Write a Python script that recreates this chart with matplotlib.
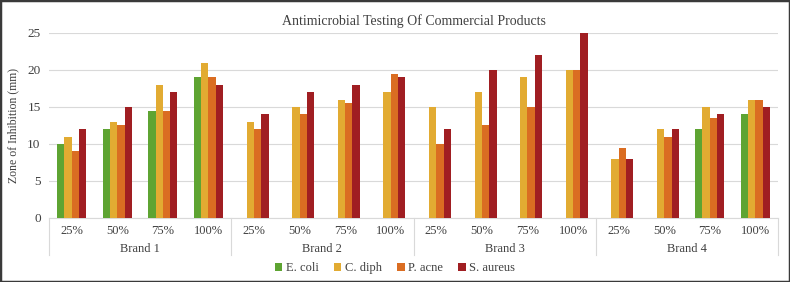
import numpy as np
import matplotlib.pyplot as plt
from matplotlib.patches import Rectangle

# ======================
# DATA
# ======================
brands = ['Brand 1', 'Brand 2', 'Brand 3', 'Brand 4']
concentrations = ['25%', '50%', '75%', '100%']
series_names = ['E. coli', 'C. diph', 'P. acne', 'S. aureus']

e_coli = [10, 12, 14.5, 19, 0, 0, 0, 0, 0, 0, 0, 0, 0, 0, 12, 14]
c_diph = [11, 13, 18, 21, 13, 15, 16, 17, 15, 17, 19, 20, 8, 12, 15, 16]
p_acne = [9, 12.5, 14.5, 19, 12, 14, 15.5, 19.5, 10, 12.5, 15, 20, 9.5, 11, 13.5, 16]
s_aureus = [12, 15, 17, 18, 14, 17, 18, 19, 12, 20, 22, 25, 8, 12, 14, 15]

colors = ['#5ea432', '#e2ab32', '#da6d22', '#a01e22']

# ======================
# FIGURE
# ======================
plt.rcParams['font.family'] = ['Liberation Serif', 'DejaVu Serif']
fig = plt.figure(figsize=(7.9, 2.82), dpi=100)
ax = fig.add_axes([0.062, 0.227, 0.923, 0.656])

n_cat = len(brands) * len(concentrations)
x = np.arange(n_cat)
bw = 0.16
for i, (name, vals) in enumerate(zip(series_names, [e_coli, c_diph, p_acne, s_aureus])):
    ax.bar(x + (i - 1.5) * bw, vals, width=bw, color=colors[i], label=name, zorder=3)

ax.set_xlim(-0.5, n_cat - 0.5)
ax.set_ylim(0, 25)
ax.set_yticks(range(0, 26, 5))
ax.grid(axis='y', color='#d9d9d9', linewidth=0.8, zorder=0)
for s in ['top', 'right', 'left']:
    ax.spines[s].set_visible(False)
ax.spines['bottom'].set_color('#d9d9d9')
ax.tick_params(axis='y', length=0, labelsize=9.5, colors='#404040', pad=6)
ax.set_xticks([])
ax.set_ylabel('Zone of Inhibition (mm)', fontsize=8.5, color='#404040', labelpad=6)

# category and brand labels
tr = ax.get_xaxis_transform()
labels = [c for b in brands for c in concentrations]
for xi, lab in zip(x, labels):
    ax.text(xi, -0.07, lab, transform=tr, ha='center', va='center',
            fontsize=9, color='#404040')
nc = len(concentrations)
for bi, b in enumerate(brands):
    ax.text(bi * nc + (nc - 1) / 2, -0.17, b, transform=tr, ha='center',
            va='center', fontsize=9, color='#404040')
for k in range(len(brands) + 1):
    ax.plot([k * nc - 0.5] * 2, [0, -0.2], transform=tr, color='#d9d9d9',
            linewidth=0.8, clip_on=False)

ax.set_title('Antimicrobial Testing Of Commercial Products', fontsize=10,
             color='#404040', pad=6)

leg = fig.legend(loc='center', bbox_to_anchor=(0.5, 0.048), ncol=4, frameon=False,
                 fontsize=9, handlelength=0.6, handleheight=0.6, handletextpad=0.3,
                 columnspacing=1.2)
for t in leg.get_texts():
    t.set_color('#404040')

fig.patches.append(Rectangle((0, 0), 1, 1, transform=fig.transFigure, fill=False,
                             edgecolor='#3a3a3a', linewidth=2.5))

plt.savefig('out.png', dpi=100)
